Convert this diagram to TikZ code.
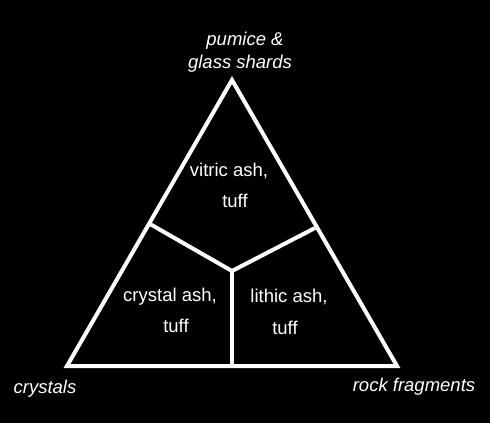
\documentclass[tikz,border=0pt]{standalone}
\usepackage{fontspec}
\setmainfont{Liberation Sans}
\begin{document}
\begin{tikzpicture}[x=1pt,y=-1pt,
  edge/.style={draw=white,line width=4pt,line join=miter},
  lbl/.style={text=white,font=\fontsize{18.5}{22}\selectfont\itshape,inner sep=0pt},
  fld/.style={text=white,font=\fontsize{18.5}{22}\selectfont,inner sep=0pt,align=center}]
\fill[black] (0,0) rectangle (490,423);
\useasboundingbox (0,0) rectangle (490,423);
\coordinate (top) at (232,80);
\coordinate (bl) at (67,366);
\coordinate (br) at (397,366);
\coordinate (c) at (232,271);
\coordinate (ml) at (150,224);
\coordinate (mr) at (315,228);
\coordinate (mb) at (232,366);
\draw[edge] (top) -- (br) -- (bl) -- cycle;
\draw[edge] (ml) -- (c) -- (mr);
\draw[edge] (c) -- (mb);
\node[lbl] (p1) at (245,41) {pumice \&};
\node[lbl] (p2) at (240,64) {glass shards};
\node[lbl] (cr) at (45,389) {crystals};
\node[lbl] (rf) at (414,387) {rock fragments};
\node[fld] (v1) at (229,171) {vitric ash,};
\node[fld] (v2) at (235,201) {tuff};
\node[fld] (c1) at (170,297) {crystal ash,};
\node[fld] (c2) at (176,326) {tuff};
\node[fld] (l1) at (289,297) {lithic ash,};
\node[fld] (l2) at (285,328) {tuff};
\end{tikzpicture}
\end{document}
